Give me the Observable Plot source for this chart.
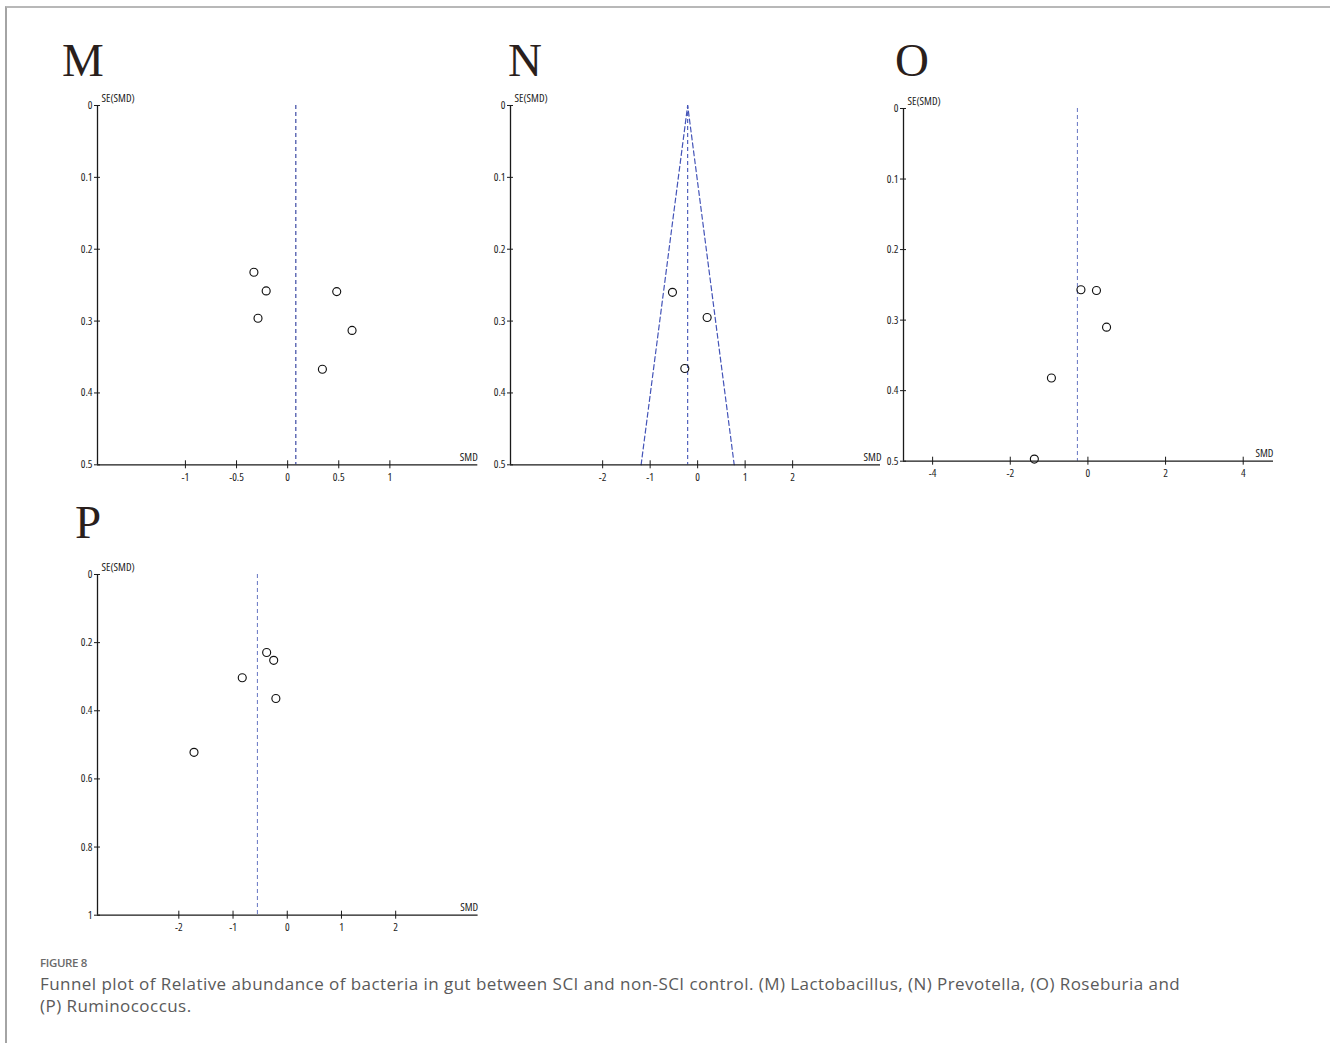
<!DOCTYPE html>
<html>
<head>
<meta charset="utf-8">
<script src="https://cdn.jsdelivr.net/npm/d3@7"></script>
<script src="https://cdn.jsdelivr.net/npm/@observablehq/plot@0.6"></script>
<style>
  html, body { margin: 0; padding: 0; background: #fff; }
  #page { position: relative; width: 1330px; height: 1043px; overflow: hidden; background: #fff; }
  #frame { position: absolute; left: 5px; top: 6px; width: 1340px; height: 1050px;
           border-top: 2px solid #b8b8b8; border-left: 2px solid #a4a4a4; }
  .panel { position: absolute; }
  .panel svg { max-width: none !important; }
  .panel svg, .panel svg text {
    font-family: "Open Sans", "Noto Sans", "DejaVu Sans Condensed", sans-serif !important;
    font-stretch: 75% !important;
  }
  .letter { position: absolute; font-family: "Liberation Serif", "DejaVu Serif", serif;
            font-size: 47px; line-height: 48px; font-weight: 400; color: #2a1f1c; }
  .fig { position: absolute; left: 40px; top: 955px; font-family: "Open Sans", "Noto Sans", sans-serif;
         font-size: 11.5px; line-height: 16px; font-weight: 600; letter-spacing: -0.35px; color: #6a6a6a; }
  .cap { position: absolute; left: 40px; top: 973px; font-family: "Open Sans", "Noto Sans", sans-serif;
         font-size: 17px; line-height: 22px; letter-spacing: 0.45px; color: #5a5a5a; white-space: nowrap; }
</style>
</head>
<body>
<div id="page">
  <div id="frame"></div>
</div>
<script>
// ---------- data ----------
// Panel M: Lactobacillus
const mSMD = [-0.33, -0.21, -0.29, 0.48, 0.63, 0.34];
const mSE  = [0.232, 0.258, 0.296, 0.259, 0.313, 0.367];
const mPooled = 0.08;
const mXTicks = [-1, -0.5, 0, 0.5, 1];
const mYTicks = [0, 0.1, 0.2, 0.3, 0.4, 0.5];

// Panel N: Prevotella
const nSMD = [-0.53, 0.20, -0.27];
const nSE  = [0.260, 0.295, 0.366];
const nPooled = -0.21;
const nFunnelSMD = [-1.19, -0.21, 0.77];
const nFunnelSE  = [0.5, 0, 0.5];
const nXTicks = [-2, -1, 0, 1, 2];
const nYTicks = [0, 0.1, 0.2, 0.3, 0.4, 0.5];

// Panel O: Roseburia
const oSMD = [-0.18, 0.22, 0.48, -0.94, -1.38];
const oSE  = [0.257, 0.258, 0.310, 0.382, 0.497];
const oPooled = -0.27;
const oXTicks = [-4, -2, 0, 2, 4];
const oYTicks = [0, 0.1, 0.2, 0.3, 0.4, 0.5];

// Panel P: Ruminococcus
const pSMD = [-0.38, -0.25, -0.83, -0.21, -1.72];
const pSE  = [0.229, 0.252, 0.303, 0.364, 0.522];
const pPooled = -0.55;
const pXTicks = [-2, -1, 0, 1, 2];
const pYTicks = [0, 0.2, 0.4, 0.6, 0.8, 1];

const panelLetters = ["M", "N", "O", "P"];
const yLabel = "SE(SMD)";
const xLabel = "SMD";
const figLabel = "FIGURE 8";
const captionLine1 = "Funnel plot of Relative abundance of bacteria in gut between SCI and non-SCI control. (M) Lactobacillus, (N) Prevotella, (O) Roseburia and";
const captionLine2 = "(P) Ruminococcus.";

// ---------- drawing ----------
const page = document.getElementById("page");
const fs = 11;

function panel(cfg) {
  const ml = cfg.ml ?? 40, mr = cfg.mr ?? 25, mt = 25, mb = 25;
  const w = cfg.box[1] - cfg.box[0], h = cfg.box[3] - cfg.box[2];
  const pts = cfg.smd.map((x, i) => ({x, y: cfg.se[i]}));
  const [x0, x1] = cfg.xDomain, [y0, y1] = cfg.yDomain;
  const marks = [
    Plot.ruleX([cfg.pooled], {y1: y0, y2: y1, stroke: cfg.dashColor, strokeWidth: 1.1, strokeDasharray: "4,3"}),
  ];
  if (cfg.funnelX) {
    marks.push(Plot.line(cfg.funnelX.map((x, i) => ({x, y: cfg.funnelY[i]})),
      {x: "x", y: "y", stroke: cfg.dashColor, strokeWidth: 1.2, strokeDasharray: "5,3"}));
  }
  marks.push(
    Plot.ruleX([x0], {stroke: "#1a1a1a", strokeWidth: 1.3}),
    Plot.ruleY([y1], {stroke: "#1a1a1a", strokeWidth: 1.3}),
    Plot.axisY(cfg.yTicks, {anchor: "left", tickSize: 6, dx: 3, tickPadding: 2, tickFormat: d => String(d),
      stroke: "#1a1a1a", fill: "#222", fontSize: fs, label: null}),
    Plot.axisX(cfg.xTicks, {anchor: "bottom", tickSize: 8, dy: -4, tickPadding: 4, tickFormat: d => String(d),
      stroke: "#1a1a1a", fill: "#222", fontSize: fs, label: null}),
    Plot.dot(pts, {x: "x", y: "y", r: 4, stroke: "#111", strokeWidth: 1.15, fill: "none"}),
    Plot.text([yLabel], {frameAnchor: "top-left", text: d => d, dx: 4, dy: -3, lineAnchor: "bottom",
      textAnchor: "start", fontSize: fs, fill: "#222"}),
    Plot.text([xLabel], {frameAnchor: "bottom-right", text: d => d, dx: cfg.labelDx ?? 0, dy: -4, lineAnchor: "bottom",
      textAnchor: "end", fontSize: fs, fill: "#222"})
  );
  const svg = Plot.plot({
    width: w + ml + mr, height: h + mt + mb,
    marginLeft: ml, marginRight: mr, marginTop: mt, marginBottom: mb,
    x: {domain: cfg.xDomain},
    y: {domain: cfg.yDomain, reverse: true},
    style: {background: "white", overflow: "visible"},
    marks
  });
  const holder = document.createElement("div");
  holder.className = "panel";
  holder.style.left = (cfg.box[0] - ml) + "px";
  holder.style.top = (cfg.box[2] - mt) + "px";
  if (cfg.clipRight) {
    holder.style.width = (cfg.clipRight - (cfg.box[0] - ml)) + "px";
    holder.style.height = (h + mt + mb) + "px";
    holder.style.overflow = "hidden";
  }
  holder.appendChild(svg);
  page.appendChild(holder);
}

// box: [left, right, top, bottom] of the plotting area in page pixels
panel({box: [96.7, 477, 105, 464.3], xDomain: [-1.86, 1.86], yDomain: [0, 0.5],
       smd: mSMD, se: mSE, pooled: mPooled, xTicks: mXTicks, yTicks: mYTicks, dashColor: "#2b3a9c"});
panel({box: [510, 880, 105, 464.3], xDomain: [-3.94, 3.85], yDomain: [0, 0.5], ml: 26, clipRight: 883, labelDx: 1,
       smd: nSMD, se: nSE, pooled: nPooled, xTicks: nXTicks, yTicks: nYTicks, dashColor: "#4454b8",
       funnelX: nFunnelSMD, funnelY: nFunnelSE});
panel({box: [903.3, 1273.3, 108.3, 461], xDomain: [-4.75, 4.78], yDomain: [0, 0.5], ml: 20,
       smd: oSMD, se: oSE, pooled: oPooled, xTicks: oXTicks, yTicks: oYTicks, dashColor: "#7482c8"});
panel({box: [96.7, 477.3, 574.3, 915], xDomain: [-3.5, 3.52], yDomain: [0, 1],
       smd: pSMD, se: pSE, pooled: pPooled, xTicks: pXTicks, yTicks: pYTicks, dashColor: "#7482c8"});

// panel letters
const letterPos = [[62, 36], [508, 36], [895, 36], [75, 498]];
panelLetters.forEach((t, i) => {
  const d = document.createElement("div");
  d.className = "letter";
  d.style.left = letterPos[i][0] + "px";
  d.style.top = letterPos[i][1] + "px";
  d.textContent = t;
  page.appendChild(d);
});

// caption
const f = document.createElement("div");
f.className = "fig"; f.textContent = figLabel; page.appendChild(f);
const c = document.createElement("div");
c.className = "cap";
c.appendChild(document.createTextNode(captionLine1));
c.appendChild(document.createElement("br"));
c.appendChild(document.createTextNode(captionLine2));
page.appendChild(c);
</script>
</body>
</html>
